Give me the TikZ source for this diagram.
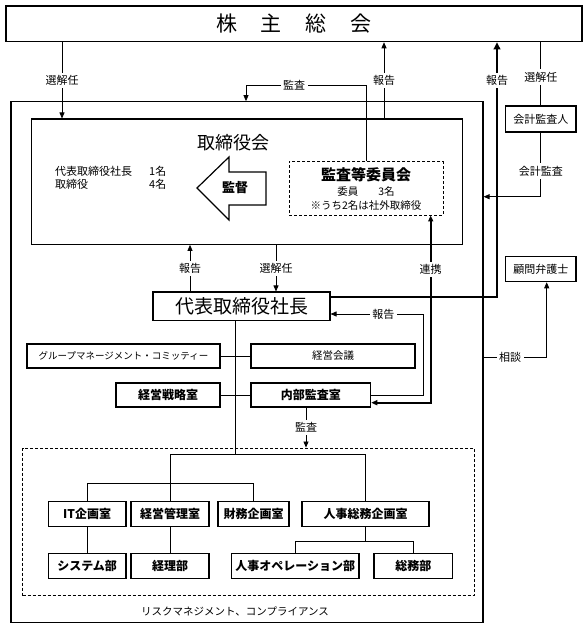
\documentclass[tikz,border=0pt]{standalone}
\usepackage{fontspec}
\setmainfont{Noto Sans CJK JP}
\usetikzlibrary{arrows.meta}
\newcommand\myfs[1]{\fontsize{#1}{#1}\selectfont}
\begin{document}
\begin{tikzpicture}[x=1pt,y=-1pt,
  bx/.style={draw,line width=1.1pt,inner sep=0pt,font=\myfs{12}\bfseries},
  nbx/.style={draw,line width=1.1pt,inner sep=0pt,font=\myfs{10.5}},
  dbx/.style={draw,line width=0.9pt,dash pattern=on 3pt off 2pt,inner sep=0pt},
  ln/.style={line width=0.8pt},
  arr/.style={ln,-{Triangle[length=6pt,width=5pt]}},
  lbl/.style={fill=white,inner sep=2.5pt,font=\myfs{11}},
  thk/.style={line width=2.4pt,-{Triangle[length=7pt,width=6.5pt]}},
  med/.style={line width=1.8pt},
  txt/.style={inner sep=0pt,font=\myfs{11}}]
\useasboundingbox (0,0) rectangle (588,629);
% main boxes
\node[draw,line width=1.1pt,minimum width=576pt,minimum height=35.7pt,inner sep=0pt,font=\myfs{21}] (gm) at (294,23.85) {株\hspace{24pt}主\hspace{24pt}総\hspace{24pt}会};
\node[draw,line width=1.1pt,minimum width=472pt,minimum height=520.6pt,inner sep=0pt] (outer) at (247,362) {};
\node[draw,line width=1.1pt,minimum width=431pt,minimum height=125.3pt,inner sep=0pt] (board) at (247.2,181.65) {};
\node[txt,font=\myfs{18}] (boardt) at (233,143) {取締役会};
\node[txt,anchor=west] (bt1) at (55,171) {代表取締役社長};
\node[txt,anchor=west] (bt2) at (149,171) {1名};
\node[txt,anchor=west] (bt3) at (55,184) {取締役};
\node[txt,anchor=west] (bt4) at (149,184) {4名};
\draw[line width=1.2pt,fill=white] (197,188) -- (229,157) -- (229,172) -- (266,172) -- (266,205) -- (229,205) -- (229,220) -- cycle;
\node[txt,font=\myfs{13}\bfseries] (kantoku) at (235,188) {監督};
\node[dbx,minimum width=154pt,minimum height=53.3pt] (ac) at (366,188.35) {};
\node[txt,font=\myfs{15}\bfseries] (act1) at (366,175) {監査等委員会};
\node[txt,font=\myfs{10.5}] (act2) at (366,192) {委員\hspace{20pt}3名};
\node[txt,font=\myfs{10.5}] (act3) at (366,206) {※うち2名は社外取締役};
\node[nbx,minimum width=70.3pt,minimum height=26pt,font=\myfs{11}] (auditor) at (540.85,119) {会計監査人};
\node[nbx,minimum width=70.3pt,minimum height=25pt,font=\myfs{11}] (lawyer) at (540.85,269.2) {顧問弁護士};
\node[draw,line width=1.1pt,inner sep=0pt,minimum width=177pt,minimum height=28.7pt,font=\myfs{19}] (pres) at (241.5,306.35) {代表取締役社長};
\node[nbx,minimum width=193pt,minimum height=24pt,font=\myfs{9.5}] (gmc) at (123.5,356) {グループマネージメント・コミッティー};
\node[nbx,minimum width=164pt,minimum height=24pt] (kk) at (333,356) {経営会議};
\node[bx,minimum width=104pt,minimum height=24pt] (sr) at (168,395) {経営戦略室};
\node[bx,minimum width=119.7pt,minimum height=24pt] (nb) at (310.85,395) {内部監査室};
\node[dbx,minimum width=451.3pt,minimum height=147.7pt] (risk) at (248.35,521.85) {};
\node[bx,minimum width=77.7pt,minimum height=25.4pt] (it) at (87.15,514) {IT企画室};
\node[bx,minimum width=78pt,minimum height=25.4pt] (kr) at (170,514) {経営管理室};
\node[bx,minimum width=71pt,minimum height=25.4pt] (zm) at (253.5,514) {財務企画室};
\node[bx,minimum width=127pt,minimum height=25.4pt] (js) at (365.5,514) {人事総務企画室};
\node[bx,minimum width=77.7pt,minimum height=25pt] (sys) at (87.15,565.8) {システム部};
\node[bx,minimum width=78pt,minimum height=25pt] (kei) at (170,565.8) {経理部};
\node[bx,minimum width=127.3pt,minimum height=25pt] (jop) at (295.35,565.8) {人事オペレーション部};
\node[bx,minimum width=78.7pt,minimum height=25pt] (sm) at (413.35,565.8) {総務部};
\node[txt,font=\myfs{10.5}] (riskt) at (235,611.7) {リスクマネジメント、コンプライアンス};
% coordinates
\coordinate (selL) at (62,0);
\coordinate (kt) at (246,85);
\coordinate (rep1) at (384,0);
\coordinate (tk) at (497,296.7);
\coordinate (ka) at (0,196.7);
\coordinate (r2) at (190,0);
\coordinate (s2) at (276,0);
\coordinate (rk) at (430.7,402.7);
\coordinate (rr) at (423,314);
\coordinate (sd) at (546.7,357);
\coordinate (trunk) at (235.7,454);
\coordinate (b1) at (0,454);
\coordinate (b2) at (0,483.3);
\coordinate (b3) at (0,541);
\coordinate (k2) at (306,0);
% connectors
\draw[arr] (gm.south -| selL) -- node[lbl,midway]{選解任} (board.north -| selL);
\draw[arr] (ac.north) |- node[lbl,pos=0.8]{監査} (kt) -- (outer.north -| kt);
\draw[arr] (board.north -| rep1) -- node[lbl,midway]{報告} (gm.south -| rep1);
\draw[thk] (tk -| pres.east) -- (tk) -- node[lbl,pos=0.85]{報告} (gm.south -| tk);
\draw[ln] (gm.south -| auditor) -- node[lbl,pos=0.55]{選解任} (auditor.north);
\draw[arr] (auditor.south) |- node[lbl,pos=0.3]{会計監査} (outer.east |- ka);
\draw[arr] (pres.north -| r2) -- node[lbl,midway]{報告} (board.south -| r2);
\draw[arr] (board.south -| s2) -- node[lbl,midway]{選解任} (pres.north -| s2);
\draw[med,{Triangle[length=6pt,width=5pt]}-{Triangle[length=6pt,width=5pt]}] (ac.south -| rk) -- node[lbl,pos=0.29]{連携} (rk) -- (nb.east |- rk);
\draw[arr] (nb.east) -| (rr) -- node[lbl,pos=0.43]{報告} (pres.east |- rr);
\draw[arr] (outer.east |- sd) -- node[lbl,pos=0.42]{相談} (sd) -- (lawyer.south -| sd);
\draw[ln] (pres.south -| trunk) -- (trunk);
\draw[ln] (gmc) -- (kk);
\draw[ln] (sr) -- (nb);
\draw[arr] (nb.south -| k2) -- node[lbl,midway]{監査} (risk.north -| k2);
\draw[ln] (kr.north |- b1) -- (js.north |- b1);
\draw[ln] (kr.north |- b1) -- (kr.north);
\draw[ln] (it.north) |- (zm.north |- b2) -- (zm.north);
\draw[ln] (js.north |- b1) -- (js.north);
\draw[ln] (it) -- (sys);
\draw[ln] (kr) -- (kei);
\draw[ln] (js.south) -- (js.south |- b3);
\draw[ln] (jop.north) |- (sm.north |- b3) -- (sm.north);
\end{tikzpicture}
\end{document}
